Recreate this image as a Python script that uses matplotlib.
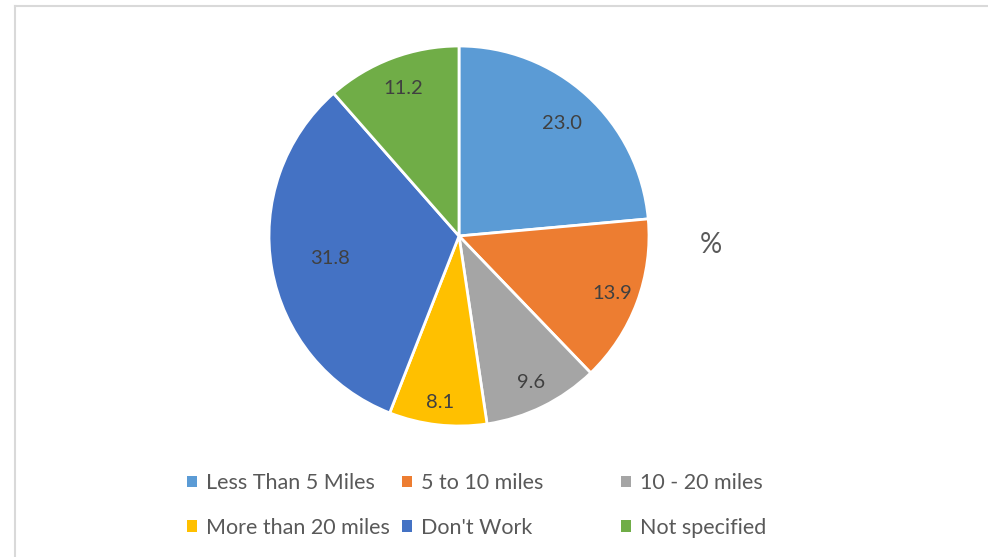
import numpy as np
import matplotlib.pyplot as plt
from matplotlib.patches import Patch

# data
categories = ['Less Than 5 Miles', '5 to 10 miles', '10 - 20 miles',
              'More than 20 miles', "Don't Work", 'Not specified']
values = [23.0, 13.9, 9.6, 8.1, 31.8, 11.2]
colors = ['#5B9BD5', '#ED7D31', '#A5A5A5', '#FFC000', '#4472C4', '#70AD47']
label_dist = [0.80, 0.86, 0.86, 0.88, 0.69, 0.83]

plt.rcParams['font.family'] = ['Lato', 'DejaVu Sans']
txt = '#595959'

fig = plt.figure(figsize=(9.88, 5.57), dpi=100)
W, H = 988, 557

# light frame
fig.add_artist(plt.Line2D([15/W, 15/W], [0, 1 - 6/H], color='#d9d9d9', lw=1.5))
fig.add_artist(plt.Line2D([15/W, 1], [1 - 6/H, 1 - 6/H], color='#d9d9d9', lw=1.5))

cx, cy, r = 459, 236, 190
ax = fig.add_axes([(cx - r)/W, 1 - (cy + r)/H, 2*r/W, 2*r/H])
wedges, _ = ax.pie(values, colors=colors, startangle=90, counterclock=False,
                   radius=1, wedgeprops=dict(edgecolor='white', linewidth=2))
ax.set_xlim(-1, 1)
ax.set_ylim(-1, 1)
ax.set_aspect('equal')
ax.axis('off')

for w, v, d in zip(wedges, values, label_dist):
    a = np.deg2rad((w.theta1 + w.theta2) / 2)
    ax.text(d*np.cos(a), d*np.sin(a), f'{v:.1f}', ha='center', va='center',
            fontsize=14.5, color='#404040')

fig.text(711/W, 1 - 245/H, '%', ha='center', va='center', fontsize=20, color=txt)

# legend, three columns placed like the original
col_x = [187, 402, 621]
for j in range(3):
    idx = [j, j + 3]
    handles = [Patch(facecolor=colors[i], edgecolor='none') for i in idx]
    leg = fig.legend(handles, [categories[i] for i in idx], loc='upper left',
                     bbox_to_anchor=(col_x[j]/W, 1 - 473/H), frameon=False,
                     fontsize=15.5, handlelength=0.45, handleheight=0.45,
                     handletextpad=0.45, labelspacing=1.15, borderpad=0,
                     borderaxespad=0)
    for t in leg.get_texts():
        t.set_color(txt)

fig.savefig('out.png', dpi=100)
